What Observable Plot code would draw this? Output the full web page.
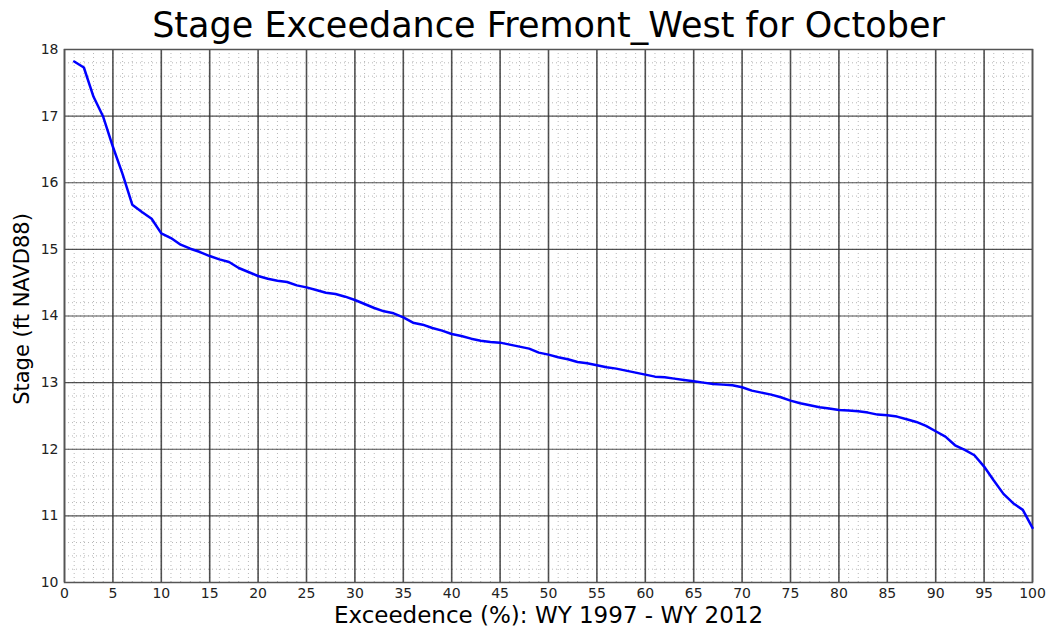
<!DOCTYPE html>
<html>
<head>
<meta charset="utf-8">
<script src="https://cdn.jsdelivr.net/npm/d3@7"></script>
<script src="https://cdn.jsdelivr.net/npm/@observablehq/plot@0.6"></script>
<style>
  html, body { margin: 0; padding: 0; background: #fff; }
  #chart svg { display: block; }
</style>
</head>
<body>
<div id="chart"></div>
<script>
const exceedance = d3.range(1, 101);
const stage = [
  17.82, 17.73, 17.29, 16.99, 16.54, 16.13, 15.67, 15.56, 15.46, 15.24,
  15.17, 15.07, 15.01, 14.96, 14.90, 14.85, 14.81, 14.72, 14.66, 14.60,
  14.56, 14.53, 14.51, 14.46, 14.43, 14.39, 14.35, 14.33, 14.29, 14.24,
  14.18, 14.12, 14.07, 14.04, 13.98, 13.90, 13.87, 13.82, 13.78, 13.73,
  13.70, 13.66, 13.63, 13.61, 13.60, 13.57, 13.54, 13.51, 13.45, 13.42,
  13.38, 13.35, 13.31, 13.29, 13.26, 13.23, 13.21, 13.18, 13.15, 13.12,
  13.09, 13.08, 13.06, 13.04, 13.02, 13.00, 12.98, 12.97, 12.96, 12.93,
  12.88, 12.85, 12.82, 12.78, 12.73, 12.69, 12.66, 12.63, 12.61, 12.59,
  12.58, 12.57, 12.55, 12.52, 12.51, 12.49, 12.45, 12.41, 12.35, 12.27,
  12.19, 12.06, 11.99, 11.91, 11.74, 11.53, 11.33, 11.19, 11.09, 10.82
];
const xMajorTicks = d3.range(0, 101, 5);
const xMinorTicks = d3.range(0, 101, 1);
const yMajorTicks = d3.range(10, 19, 1);
const yMinorTicks = d3.range(0, 41).map(i => 10 + i * 0.2);

const titleText = "Stage Exceedance Fremont_West for October";
const xLabel = "Exceedence (%): WY 1997 - WY 2012";
const yLabel = "Stage (ft NAVD88)";

const data = exceedance.map((x, i) => ({x, y: stage[i]}));

const font = "DejaVu Sans, sans-serif";

const chart = Plot.plot({
  width: 1048,
  height: 630,
  marginTop: 49,
  marginLeft: 64,
  marginRight: 16,
  marginBottom: 48,
  style: {fontFamily: font, fontSize: "14px", color: "#222", background: "#fff"},
  x: {domain: [0, 100], ticks: xMajorTicks, tickSize: 0, tickPadding: 6, label: null},
  y: {domain: [10, 18], ticks: yMajorTicks, tickSize: 0, tickPadding: 6, label: null},
  marks: [
    Plot.ruleX(xMinorTicks, {stroke: "#999", strokeWidth: 1, strokeDasharray: "1,3", strokeOpacity: 0.7}),
    Plot.ruleY(yMinorTicks, {stroke: "#999", strokeWidth: 1, strokeDasharray: "1,3", strokeOpacity: 0.7}),
    Plot.ruleX(xMajorTicks, {stroke: "#333", strokeWidth: 1.6, strokeOpacity: 0.85}),
    Plot.ruleY(yMajorTicks, {stroke: "#333", strokeWidth: 1.2, strokeOpacity: 0.85}),
    Plot.axisX({ticks: xMajorTicks, tickSize: 0, tickPadding: 6, fontSize: 14, label: null}),
    Plot.axisY({ticks: yMajorTicks, tickSize: 0, tickPadding: 6, fontSize: 14, label: null}),
    Plot.frame({stroke: "#555", strokeWidth: 1.5}),
    Plot.line(data, {x: "x", y: "y", stroke: "#0000ff", strokeWidth: 2.5}),
    Plot.text([titleText], {frameAnchor: "top", dy: -24, fontSize: 35, fill: "#000", lineAnchor: "middle"}),
    Plot.text([xLabel], {frameAnchor: "bottom", dy: 33, fontSize: 23, fill: "#000", lineAnchor: "middle"}),
    Plot.text([yLabel], {frameAnchor: "left", dx: -42, dy: -7, rotate: -90, textAnchor: "middle", fontSize: 21, fill: "#000", lineAnchor: "middle"})
  ]
});
document.getElementById("chart").appendChild(chart);
</script>
</body>
</html>
